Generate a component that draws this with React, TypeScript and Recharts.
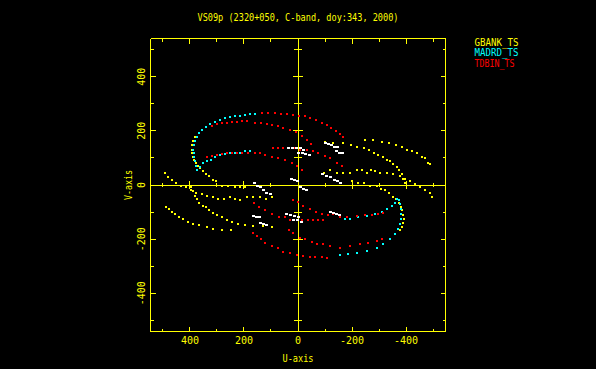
import React from 'react';
import { ScatterChart, Scatter, XAxis, YAxis, ReferenceLine, Legend, Customized } from 'recharts';

type P = [number, number];

// u, v values for each track
// GBANK_TS
const gbankVertUpper: P[] = [[380,176],[388,161],[392,146],[392,131],[392,117],[388,105],[384,94],[377,83],[369,72],[362,61],[351,50],[340,39],[329,32],[314,20],[303,13],[280,-2],[258,-2],[232,-9],[214,-6],[195,-9]];
const gbankVertLower: P[] = [[-200,13],[-223,9],[-245,6],[-267,-2],[-293,-2],[-308,-13],[-323,-20],[-337,-31],[-352,-43],[-363,-50],[-374,-65],[-382,-80],[-386,-94],[-389,-109],[-393,-124],[-389,-139],[-386,-154],[-378,-168]];
const gbankOuterUpper: P[] = [[-249,168],[-278,165],[-312,157],[-337,154],[-363,146],[-386,139],[-404,131],[-423,124],[-441,117],[-460,105],[-471,98],[-482,83],[-489,76]];
const gbankOuterLower: P[] = [[487,-80],[476,-87],[465,-98],[454,-106],[439,-117],[424,-124],[406,-135],[387,-143],[365,-146],[336,-154],[313,-161],[280,-165],[247,-165]];
const gbankMidUpper: P[] = [[-101,157],[-130,154],[-167,154],[-197,146],[-219,142],[-245,135],[-263,128],[-282,117],[-297,109],[-315,102],[-330,94],[-341,87],[-352,76],[-367,65],[-374,54],[-386,39],[-389,24],[-397,9]];
const gbankMidLower: P[] = [[395,-9],[388,-24],[380,-39],[373,-50],[366,-65],[351,-76],[340,-83],[329,-94],[314,-102],[299,-109],[281,-120],[262,-128],[244,-135],[221,-143],[195,-146],[166,-150],[129,-150],[96,-154]];
const gbankFlatUpper: P[] = [[-97,46],[-119,54],[-145,43],[-167,46],[-193,46],[-219,57],[-238,54],[-256,46],[-271,54],[-286,50],[-304,46],[-330,43],[-352,39],[-378,32],[-397,24],[-415,13],[-434,2],[-452,-6],[-471,-17],[-489,-31],[-497,-46]];
const gbankFlatLower: P[] = [[96,-46],[118,-50],[140,-43],[166,-43],[188,-43],[214,-54],[232,-50],[251,-46],[273,-50],[295,-50],[314,-43],[336,-39],[355,-35],[377,-28],[395,-20],[414,-9],[432,-2],[451,9],[466,20],[480,31],[491,46]];

// MADRD_TS
const madrdOuterUpper: P[] = [[158,261],[177,261],[195,257],[214,254],[232,254],[251,250],[269,246],[288,239],[306,231],[325,224],[340,213],[355,202],[366,191],[373,176],[380,161],[384,146],[388,131],[384,117],[384,102],[380,87],[377,72],[373,57]];
const madrdInnerUpper: P[] = [[362,68],[351,80],[336,87],[321,94],[306,102],[288,109],[269,113],[251,117],[232,120],[214,120],[195,124],[177,124]];
const madrdOuterLower: P[] = [[-156,-257],[-186,-254],[-219,-250],[-256,-242],[-293,-231],[-315,-217],[-341,-198],[-360,-180],[-371,-161],[-378,-143],[-382,-124],[-382,-106],[-382,-87],[-378,-69],[-374,-54]];
const madrdInnerLower: P[] = [[-367,-50],[-360,-65],[-349,-76],[-330,-87],[-312,-98],[-286,-106],[-256,-113],[-223,-120],[-193,-124],[-175,-124]];

// TDBIN_TS
const tdbinTopUpper: P[] = [[132,265],[110,265],[84,265],[62,261],[40,261],[18,257],[-4,253],[-27,253],[-45,246],[-67,239],[-89,228],[-108,220],[-123,209],[-141,198],[-156,187],[-167,176]];
const tdbinTopLower: P[] = [[166,-176],[151,-187],[136,-198],[121,-213],[96,-224],[73,-231],[55,-246],[29,-250],[3,-257],[-19,-261],[-45,-265],[-64,-265],[-90,-265],[-108,-268]];
const tdbinOuterUpper: P[] = [[318,217],[299,224],[281,228],[262,228],[244,231],[225,231],[207,235],[188,235],[158,228],[136,228],[114,224],[96,220],[73,217],[55,209],[29,202],[7,194],[-16,180],[-34,165],[-49,150]];
const tdbinOuterLower: P[] = [[33,-165],[18,-176],[-8,-194],[-27,-198],[-53,-209],[-71,-217],[-93,-217],[-119,-224],[-156,-231],[-193,-224],[-230,-217],[-260,-213],[-293,-205],[-312,-198]];
const tdbinInnerUpper: P[] = [[336,102],[318,106],[299,109],[281,113],[262,117],[244,117],[225,120],[207,120],[184,120],[158,117],[140,117],[121,109],[96,102],[73,98],[47,91],[22,80],[3,72],[-16,57]];
const tdbinInnerLower: P[] = [[18,-54],[-1,-61],[-19,-76],[-45,-87],[-67,-98],[-90,-106],[-112,-109],[-130,-106],[-156,-117],[-182,-120],[-219,-113],[-249,-109],[-275,-109],[-297,-106],[-315,-102]];
const tdbinShortUpper: P[] = [[92,135],[73,135],[55,135],[36,135],[14,135],[-8,131],[-34,131],[-56,124],[-75,117],[-101,106],[-119,98],[-145,83],[-164,72]];
const tdbinShortLower: P[] = [[162,-68],[144,-80],[121,-94],[96,-106],[70,-117],[47,-120],[29,-128],[3,-128],[-16,-131],[-38,-131],[-56,-131],[-75,-131],[-93,-131]];

// short white tracks near the centre
const whitePts: P[] = [
  [36,135],[22,135],[7,135],[-8,135],[-19,131],[-1,120],[-16,117],[-27,113],[-41,109],
  [-101,154],[-112,150],[-123,146],[-134,142],[-145,139],[-141,124],[-152,120],[-164,117],
  [-90,39],[-104,35],[-119,28],[-134,20],[-145,13],[-156,6],
  [25,24],[14,20],[3,13],[-8,-6],[-19,-13],[-30,-20],
  [162,6],[151,-2],[140,-9],[129,-20],[118,-28],[103,-35],
  [44,-106],[29,-109],[14,-113],[-1,-117],[18,-128],[3,-131],[-12,-135],
  [-119,-98],[-130,-102],[-141,-106],[-152,-109],
  [166,-113],[155,-117],[144,-120],[140,-139],[129,-143],[118,-146],
];

const ticks = [-500, -400, -300, -200, -100, 0, 100, 200, 300, 400, 500];
const tickLabels = [-400, -200, 0, 200, 400];
const uDomain: [number, number] = [-546, 546];
const vDomain: [number, number] = [-541, 541];

const YEL = '#ffff00';
const FONT = '"DejaVu Sans Mono", monospace';

const toPts = (arr: P[]) => arr.map(([u, v]) => ({ u, v }));

const series = [
  { name: 'GBANK_TS', color: '#ffff00', width: 44, data: toPts([...gbankVertUpper, ...gbankVertLower, ...gbankOuterUpper, ...gbankOuterLower, ...gbankMidUpper, ...gbankMidLower, ...gbankFlatUpper, ...gbankFlatLower]) },
  { name: 'MADRD_TS', color: '#00ffff', width: 44, data: toPts([...madrdOuterUpper, ...madrdInnerUpper, ...madrdOuterLower, ...madrdInnerLower]) },
  { name: 'TDBIN_TS', color: '#ff0000', width: 40, data: toPts([...tdbinTopUpper, ...tdbinTopLower, ...tdbinOuterUpper, ...tdbinOuterLower, ...tdbinInnerUpper, ...tdbinInnerLower, ...tdbinShortUpper, ...tdbinShortLower]) },
];

const square = (color: string, w: number, h: number) => (p: any) => (
  <rect x={p.cx - w / 2} y={p.cy - h / 2} width={w} height={h} fill={color} shapeRendering="crispEdges" />
);

const BorderTick = (props: any) => {
  const { x, y, payload, side } = props;
  const val = payload.value as number;
  const len = val % 200 === 0 ? 5 : 3;
  const label = tickLabels.includes(val);
  const txt = { fill: YEL, fontSize: 10, fontFamily: FONT, textAnchor: 'middle' as const, dominantBaseline: 'central' as const };
  if (side === 'bottom') {
    return (
      <g>
        <line x1={x} y1={y} x2={x} y2={y - len} stroke={YEL} />
        {label && <text x={x} y={y + 9} {...txt}>{val}</text>}
      </g>
    );
  }
  if (side === 'top') return <line x1={x} y1={y} x2={x} y2={y + len} stroke={YEL} />;
  if (side === 'left') {
    return (
      <g>
        <line x1={x} y1={y} x2={x + len} y2={y} stroke={YEL} />
        {label && <text x={x - 9} y={y} transform={`rotate(-90 ${x - 9} ${y})`} {...txt}>{val}</text>}
      </g>
    );
  }
  return <line x1={x} y1={y} x2={x - len} y2={y} stroke={YEL} />;
};

const Titles = () => (
  <g fill={YEL} fontFamily={FONT} fontSize={10}>
    <text x={298} y={17} textAnchor="middle" dominantBaseline="central" textLength={201} lengthAdjust="spacingAndGlyphs">VS09p (2320+050, C-band, doy:343, 2000)</text>
    <text x={298} y={358} textAnchor="middle" dominantBaseline="central" textLength={31} lengthAdjust="spacingAndGlyphs">U-axis</text>
    <text x={128} y={185} textAnchor="middle" dominantBaseline="central" transform="rotate(-90 128 185)" textLength={30} lengthAdjust="spacingAndGlyphs">V-axis</text>
  </g>
);

const LegendBox = () => (
  <svg width={90} height={40} style={{ overflow: 'visible' }}>
    {series.map((s, i) => (
      <text key={s.name} x={0.5} y={[9, 19, 30][i]} fill={s.color} fontFamily={FONT} fontSize={10} textLength={s.width} lengthAdjust="spacingAndGlyphs">{s.name}</text>
    ))}
  </svg>
);

export default function App() {
  return (
    <div style={{ position: 'fixed', left: 0, top: 0, width: 596, height: 369, background: '#000' }}>
      <style>{'svg line { shape-rendering: crispEdges; }'}</style>
      <ScatterChart width={596} height={369} margin={{ top: 28.5, right: 140.5, bottom: 7.5, left: 110.5 }}>
        <XAxis xAxisId="b" type="number" dataKey="u" domain={uDomain} reversed allowDataOverflow ticks={ticks} interval={0}
          height={30} tickSize={0} tickMargin={0} tickLine={false} axisLine={{ stroke: YEL }} tick={<BorderTick side="bottom" />} />
        <XAxis xAxisId="t" orientation="top" type="number" dataKey="u" domain={uDomain} reversed allowDataOverflow ticks={ticks} interval={0}
          height={10} tickSize={0} tickMargin={0} tickLine={false} axisLine={{ stroke: YEL }} tick={<BorderTick side="top" />} />
        <YAxis yAxisId="l" type="number" dataKey="v" domain={vDomain} allowDataOverflow ticks={ticks} interval={0}
          width={40} tickSize={0} tickMargin={0} tickLine={false} axisLine={{ stroke: YEL }} tick={<BorderTick side="left" />} />
        <YAxis yAxisId="r" orientation="right" type="number" dataKey="v" domain={vDomain} allowDataOverflow ticks={ticks} interval={0}
          width={10} tickSize={0} tickMargin={0} tickLine={false} axisLine={{ stroke: YEL }} tick={<BorderTick side="right" />} />

        <ReferenceLine xAxisId="b" yAxisId="l" x={0} stroke={YEL} />
        <ReferenceLine xAxisId="b" yAxisId="l" y={0} stroke={YEL} />
        {ticks.filter((t) => t !== 0).map((t) => {
          const h = t % 200 === 0 ? 15 : 9;
          return <ReferenceLine key={'hu' + t} xAxisId="b" yAxisId="l" segment={[{ x: t, y: -h }, { x: t, y: h }]} stroke={YEL} />;
        })}
        {ticks.filter((t) => t !== 0).map((t) => {
          const w = t % 200 === 0 ? 18.5 : 13;
          return <ReferenceLine key={'vv' + t} xAxisId="b" yAxisId="l" segment={[{ x: -w, y: t }, { x: w, y: t }]} stroke={YEL} />;
        })}

        {series.map((s) => (
          <Scatter key={s.name} name={s.name} xAxisId="b" yAxisId="l" data={s.data} fill={s.color}
            shape={square(s.color, 2, 2)} isAnimationActive={false} />
        ))}
        <Scatter name="other" legendType="none" xAxisId="b" yAxisId="l" data={toPts(whitePts)} fill="#ffffff"
          shape={square('#ffffff', 3, 2)} isAnimationActive={false} />

        <Legend layout="horizontal" align="center" verticalAlign="middle" content={<LegendBox />}
          wrapperStyle={{ position: 'absolute', left: 474, top: 37, width: 90, height: 40 }} />
        <Customized component={<Titles />} />
      </ScatterChart>
    </div>
  );
}
